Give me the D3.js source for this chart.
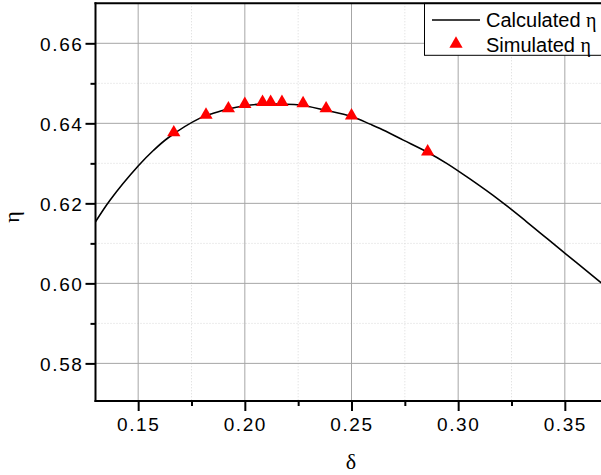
<!DOCTYPE html>
<html>
<head>
<meta charset="utf-8">
<script src="https://cdn.jsdelivr.net/npm/d3@7"></script>
<style>
  html, body { margin: 0; padding: 0; background: #fff; }
  svg { display: block; }
  .tick text { font-family: Arial, "Liberation Sans", sans-serif; font-size: 19px; letter-spacing: 1.6px; fill: #000; }
</style>
</head>
<body>
<svg id="chart" width="601" height="475"></svg>
<script>
// Calculated efficiency curve (δ, η)
const curveDelta = [0.130, 0.1368, 0.1501, 0.1571, 0.1641, 0.1790, 0.1852, 0.1922, 0.2001, 0.2079, 0.2173, 0.2259, 0.2376, 0.2501, 0.2587, 0.2634, 0.2743, 0.2852, 0.2946, 0.3055, 0.3196, 0.3321, 0.3501, 0.3665, 0.3700];
const curveEta   = [0.6154, 0.6208, 0.6294, 0.6332, 0.6364, 0.6413, 0.6425, 0.6436, 0.6444, 0.6448, 0.6448, 0.6446, 0.6433, 0.6417, 0.6398, 0.6387, 0.6358, 0.6329, 0.6300, 0.6261, 0.6207, 0.6154, 0.6075, 0.6004, 0.5989];

// Simulated efficiency points
const simDelta = [0.1667, 0.1818, 0.1923, 0.2000, 0.2083, 0.2121, 0.2174, 0.2273, 0.2381, 0.2500, 0.2857];
const simEta   = [0.6377, 0.6421, 0.6437, 0.6448, 0.6453, 0.6453, 0.6453, 0.6450, 0.6437, 0.6419, 0.6329];

// Axis ticks
const xMajor = [0.15, 0.20, 0.25, 0.30, 0.35];
const xMinor = [0.175, 0.225, 0.275, 0.325];
const yMajor = [0.58, 0.60, 0.62, 0.64, 0.66];
const yMinor = [0.59, 0.61, 0.63, 0.65];

const legendLabels = ["Calculated ", "Simulated "];

const svg = d3.select("#chart");
const pLeft = 95.5, pRight = 607.5, pTop = 3.3, pBottom = 401;

const x = d3.scaleLinear().domain([0.13, 0.37]).range([pLeft, pRight]);
const y = d3.scaleLinear().domain([0.5706, 0.67]).range([pBottom, pTop]);

svg.append("defs").append("clipPath").attr("id", "plotClip")
  .append("rect").attr("x", pLeft).attr("y", pTop).attr("width", pRight - pLeft).attr("height", pBottom - pTop);

// Grid
const grid = svg.append("g");
grid.selectAll(".gxm").data(xMinor).join("line")
  .attr("x1", d => x(d)).attr("x2", d => x(d)).attr("y1", pTop).attr("y2", pBottom)
  .attr("stroke", "#d8d8d8").attr("stroke-width", 1).attr("stroke-dasharray", "1,2");
grid.selectAll(".gym").data(yMinor).join("line")
  .attr("y1", d => y(d)).attr("y2", d => y(d)).attr("x1", pLeft).attr("x2", 601)
  .attr("stroke", "#d8d8d8").attr("stroke-width", 1).attr("stroke-dasharray", "1,2");
grid.selectAll(".gx").data(xMajor).join("line")
  .attr("x1", d => x(d)).attr("x2", d => x(d)).attr("y1", pTop).attr("y2", pBottom)
  .attr("stroke", "#a6a6a6").attr("stroke-width", 1);
grid.selectAll(".gy").data(yMajor).join("line")
  .attr("y1", d => y(d)).attr("y2", d => y(d)).attr("x1", pLeft).attr("x2", 601)
  .attr("stroke", "#a6a6a6").attr("stroke-width", 1);

// Calculated curve
const line = d3.line().x(d => x(d[0])).y(d => y(d[1])).curve(d3.curveCatmullRom.alpha(0.5));
svg.append("path")
  .datum(curveDelta.map((d, i) => [d, curveEta[i]]))
  .attr("clip-path", "url(#plotClip)")
  .attr("d", line)
  .attr("fill", "none").attr("stroke", "#000").attr("stroke-width", 1.6);

// Simulated points
const tri = d3.symbol().type(d3.symbolTriangle).size(76);
svg.append("g").selectAll("path").data(simDelta.map((d, i) => [d, simEta[i]])).join("path")
  .attr("transform", d => `translate(${x(d[0])},${y(d[1])})`)
  .attr("d", tri).attr("fill", "#ff0000");

// Axes
const xAxis = svg.append("g").attr("transform", `translate(0,${pBottom})`)
  .call(d3.axisBottom(x).tickValues(xMajor).tickFormat(d3.format(".2f")).tickSize(10).tickPadding(7));
const xAxisMinor = svg.append("g").attr("transform", `translate(0,${pBottom})`)
  .call(d3.axisBottom(x).tickValues(xMinor).tickFormat("").tickSize(5));
const yAxis = svg.append("g").attr("transform", `translate(${pLeft},0)`)
  .call(d3.axisLeft(y).tickValues(yMajor).tickFormat(d3.format(".2f")).tickSize(10).tickPadding(2));
const yAxisMinor = svg.append("g").attr("transform", `translate(${pLeft},0)`)
  .call(d3.axisLeft(y).tickValues(yMinor).tickFormat("").tickSize(5));

[xAxis, xAxisMinor, yAxis, yAxisMinor].forEach(g => {
  g.select(".domain").remove();
  g.selectAll(".tick line").attr("stroke", "#000").attr("stroke-width", 2);
});
yAxis.selectAll(".tick text").attr("dy", "0.36em");

// Frame lines
svg.append("line").attr("x1", pLeft).attr("x2", pLeft).attr("y1", pTop - 1).attr("y2", pBottom + 1)
  .attr("stroke", "#000").attr("stroke-width", 2);
svg.append("line").attr("x1", pLeft - 1).attr("x2", 601).attr("y1", pBottom).attr("y2", pBottom)
  .attr("stroke", "#000").attr("stroke-width", 2);

// Axis titles
svg.append("text").attr("x", 351).attr("y", 469)
  .attr("text-anchor", "middle")
  .style("font-family", "'Times New Roman', 'Liberation Serif', serif").style("font-size", "22px")
  .text("δ");
svg.append("text").attr("transform", "translate(19,217) rotate(-90)")
  .attr("text-anchor", "middle")
  .style("font-family", "'Times New Roman', 'Liberation Serif', serif").style("font-size", "22px")
  .text("η");

// Legend
const lg = svg.append("g");
lg.append("rect").attr("x", 424.5).attr("y", pTop).attr("width", 190).attr("height", 52)
  .attr("fill", "#fff").attr("stroke", "#000").attr("stroke-width", 1);
lg.append("line").attr("x1", 432).attr("x2", 480).attr("y1", 20).attr("y2", 20)
  .attr("stroke", "#000").attr("stroke-width", 1.6);
lg.append("path").attr("transform", "translate(456,44)").attr("d", tri).attr("fill", "#ff0000");
legendLabels.forEach((lab, i) => {
  const t = lg.append("text").attr("x", 486).attr("y", 26.5 + i * 25.5)
    .style("font-family", "Arial, 'Liberation Sans', sans-serif").style("font-size", "20px");
  t.append("tspan").text(lab);
  t.append("tspan").style("font-family", "'Times New Roman', 'Liberation Serif', serif").text("η");
});
// Top frame drawn last so it sits over the legend box
svg.append("line").attr("x1", pLeft - 1).attr("x2", 601).attr("y1", pTop).attr("y2", pTop)
  .attr("stroke", "#000").attr("stroke-width", 2);
</script>
</body>
</html>
